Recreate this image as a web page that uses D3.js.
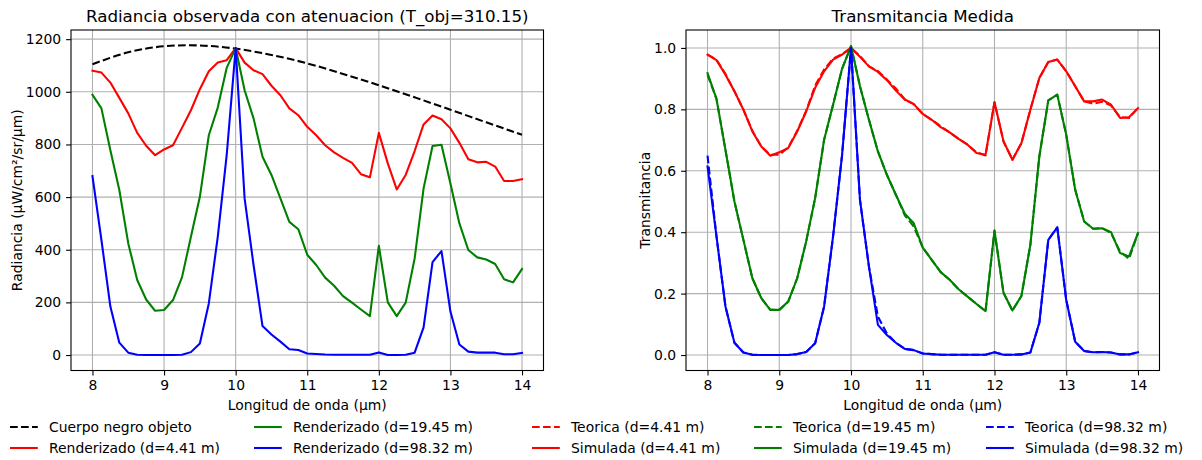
<!DOCTYPE html>
<html><head><meta charset="utf-8">
<script src="https://cdn.jsdelivr.net/npm/d3@7"></script>
<style>
body{margin:0;background:#fff;}
svg{display:block;font-family:"DejaVu Sans",sans-serif;}
</style></head><body>
<svg id="c" width="1202" height="460"></svg>
<script>
// ---------- data ----------
const wavelengths = [8,8.125,8.25,8.375,8.5,8.625,8.75,8.875,9,9.125,9.25,9.375,9.5,9.625,9.75,9.875,10,10.125,10.25,10.375,10.5,10.625,10.75,10.875,11,11.125,11.25,11.375,11.5,11.625,11.75,11.875,12,12.125,12.25,12.375,12.5,12.625,12.75,12.875,13,13.125,13.25,13.375,13.5,13.625,13.75,13.875,14];

const bbWavelengths = [8,8.5,9,9.5,10,10.5,11,11.5,12,12.5,13,13.5,14];
const bbRadiance = [1105,1150,1173,1176,1164,1140,1108,1068,1025,979,932,884,837];

const radRed = [1080,1073,1035,977,918,844,795,759,781,797,863,930,1010,1078,1111,1120,1166,1111,1082,1067,1023,987,937,911,867,835,797,770,749,730,687,675,844,728,629,684,775,876,910,896,861,806,744,732,734,716,661,661,668];
const radGreen = [989,937,778,627,424,285,211,168,171,209,295,449,601,835,940,1091,1166,1006,899,753,684,595,506,478,381,342,294,263,224,199,173,148,415,200,148,199,367,633,794,799,652,500,399,371,363,346,288,276,327];
const radBlue = [680,437,184,47,9,1,0,0,0,0,1,11,44,196,449,760,1166,595,342,110,78,51,22,19,6,4,2,1,1,1,1,1,10,0,0,1,9,105,353,395,165,40,13,9,9,9,3,3,8];

const simRed = [0.978,0.960,0.913,0.859,0.799,0.728,0.679,0.649,0.660,0.674,0.728,0.793,0.870,0.924,0.962,0.978,1.0,0.971,0.940,0.922,0.895,0.861,0.832,0.817,0.785,0.766,0.742,0.725,0.704,0.685,0.658,0.652,0.823,0.696,0.636,0.690,0.799,0.902,0.954,0.962,0.924,0.875,0.826,0.826,0.832,0.815,0.772,0.774,0.804];
const simGreen = [0.918,0.834,0.668,0.5,0.375,0.25,0.185,0.147,0.147,0.174,0.25,0.37,0.511,0.701,0.815,0.932,1.006,0.875,0.766,0.663,0.587,0.522,0.46,0.429,0.35,0.31,0.27,0.245,0.214,0.19,0.166,0.143,0.405,0.203,0.145,0.192,0.359,0.647,0.829,0.848,0.717,0.538,0.435,0.411,0.413,0.4,0.332,0.321,0.397];
const simBlue = [0.614,0.386,0.158,0.04,0.008,0.001,0,0,0,0,0.003,0.01,0.038,0.158,0.386,0.65,1.0,0.505,0.288,0.098,0.065,0.04,0.02,0.016,0.005,0.003,0.001,0.001,0.001,0.001,0.001,0.001,0.009,0.001,0.001,0.002,0.008,0.105,0.375,0.416,0.179,0.043,0.013,0.009,0.01,0.008,0.002,0.002,0.009];

const teoRed = [0.978,0.962,0.915,0.859,0.799,0.730,0.679,0.652,0.652,0.676,0.730,0.795,0.878,0.930,0.965,0.980,1.0,0.974,0.940,0.925,0.897,0.868,0.832,0.817,0.785,0.766,0.745,0.725,0.704,0.685,0.660,0.650,0.823,0.696,0.636,0.690,0.799,0.902,0.954,0.962,0.924,0.875,0.826,0.818,0.825,0.812,0.775,0.772,0.804];
const teoGreen = [0.912,0.834,0.668,0.5,0.375,0.25,0.185,0.147,0.147,0.174,0.25,0.37,0.511,0.701,0.815,0.932,1.006,0.875,0.766,0.663,0.587,0.522,0.455,0.418,0.35,0.31,0.27,0.245,0.214,0.19,0.166,0.143,0.405,0.203,0.145,0.192,0.359,0.647,0.829,0.848,0.717,0.538,0.435,0.411,0.413,0.397,0.337,0.313,0.397];
const teoBlue = [0.649,0.386,0.158,0.04,0.008,0.001,0,0,0,0,0.003,0.01,0.038,0.158,0.386,0.65,1.0,0.505,0.288,0.125,0.07,0.04,0.02,0.016,0.005,0.003,0.001,0.001,0.001,0.001,0.001,0.001,0.009,0.001,0.001,0.002,0.008,0.105,0.375,0.416,0.179,0.043,0.013,0.009,0.01,0.008,0.002,0.002,0.009];

const xTicks = [8,9,10,11,12,13,14];
const yTicksLeft = [0,200,400,600,800,1000,1200];
const yTicksRight = [0,0.2,0.4,0.6,0.8,1.0];

const titles = ["Radiancia observada con atenuacion (T_obj=310.15)","Transmitancia Medida"];
const xLabel = "Longitud de onda (µm)";
const yLabels = ["Radiancia (µW/cm²/sr/µm)","Transmitancia"];
const legendLabels = ["Cuerpo negro objeto","Renderizado (d=4.41 m)","Renderizado (d=19.45 m)","Renderizado (d=98.32 m)","Teorica (d=4.41 m)","Simulada (d=4.41 m)","Teorica (d=19.45 m)","Simulada (d=19.45 m)","Teorica (d=98.32 m)","Simulada (d=98.32 m)"];
const legendColors = ["black","red","green","blue","red","red","green","green","blue","blue"];
const legendDashed = [true,false,false,false,true,false,true,false,true,false];

// ---------- layout ----------
const svg = d3.select("#c");
const FS = 13.9;
const plotTop = 30, plotBottom = 370.5;
const xL = d3.scaleLinear([7.7,14.3],[71,543.5]);
const yL = d3.scaleLinear([-58.8,1234.8],[plotBottom,plotTop]);
const xR = d3.scaleLinear([7.7,14.3],[686,1159.5]);
const yR = d3.scaleLinear([-0.0504,1.0584],[plotBottom,plotTop]);
const DASH = "7.7,3.3";
const LW = 2.08;

function panel(x, y, yTicks, fmt, title, ylab, ylabX){
  const g = svg.append("g");
  g.selectAll(".gx").data(xTicks).join("line")
    .attr("x1",d=>x(d)).attr("x2",d=>x(d)).attr("y1",plotTop).attr("y2",plotBottom)
    .attr("stroke","#b0b0b0").attr("stroke-width",1.1);
  g.selectAll(".gy").data(yTicks).join("line")
    .attr("x1",x.range()[0]).attr("x2",x.range()[1]).attr("y1",d=>y(d)).attr("y2",d=>y(d))
    .attr("stroke","#b0b0b0").attr("stroke-width",1.1);
  const ax = g.append("g").attr("transform",`translate(0,${plotBottom})`)
    .call(d3.axisBottom(x).tickValues(xTicks).tickFormat(d3.format("d")).tickSize(4.9).tickPadding(4.3));
  const ay = g.append("g").attr("transform",`translate(${x.range()[0]},0)`)
    .call(d3.axisLeft(y).tickValues(yTicks).tickFormat(fmt).tickSize(4.9).tickPadding(4.9));
  [ax,ay].forEach(a=>{
    a.select(".domain").remove();
    a.selectAll("line").attr("stroke","#000").attr("stroke-width",1.1);
    a.selectAll("text").attr("font-size",FS).attr("fill","#000").attr("font-family","DejaVu Sans");
  });
  g.append("rect").attr("x",x.range()[0]).attr("y",plotTop)
    .attr("width",x.range()[1]-x.range()[0]).attr("height",plotBottom-plotTop)
    .attr("fill","none").attr("stroke","#000").attr("stroke-width",1.1);
  const cx = (x.range()[0]+x.range()[1])/2;
  svg.append("text").attr("x",cx).attr("y",22).attr("text-anchor","middle")
    .attr("font-size",16.7).text(title);
  svg.append("text").attr("x",cx).attr("y",410).attr("text-anchor","middle")
    .attr("font-size",FS).text(xLabel);
  svg.append("text").attr("transform",`translate(${ylabX},${(plotTop+plotBottom)/2}) rotate(-90)`)
    .attr("text-anchor","middle").attr("font-size",FS).text(ylab);
  return g;
}

const gL = panel(xL,yL,yTicksLeft,d3.format("d"),titles[0],yLabels[0],22);
const gR = panel(xR,yR,yTicksRight,d3.format(".1f"),titles[1],yLabels[1],650);

function drawLine(g, xs, ys, x, y, color, dashed, curve){
  const line = d3.line().x((d,i)=>x(xs[i])).y(d=>y(d));
  if(curve) line.curve(curve);
  g.append("path").datum(ys).attr("d",line).attr("fill","none")
    .attr("stroke",color).attr("stroke-width",LW)
    .attr("stroke-linejoin","round").attr("stroke-linecap", dashed?"butt":"square")
    .attr("stroke-dasharray", dashed?DASH:null);
}

drawLine(gL,bbWavelengths,bbRadiance,xL,yL,"black",true,d3.curveNatural);
drawLine(gL,wavelengths,radRed,xL,yL,"red",false);
drawLine(gL,wavelengths,radGreen,xL,yL,"green",false);
drawLine(gL,wavelengths,radBlue,xL,yL,"blue",false);

drawLine(gR,wavelengths,teoRed,xR,yR,"red",true);
drawLine(gR,wavelengths,simRed,xR,yR,"red",false);
drawLine(gR,wavelengths,teoGreen,xR,yR,"green",true);
drawLine(gR,wavelengths,simGreen,xR,yR,"green",false);
drawLine(gR,wavelengths,teoBlue,xR,yR,"blue",true);
drawLine(gR,wavelengths,simBlue,xR,yR,"blue",false);

const colX = [10,254,532,754,986];
const rowY = [427,448];
const lg = svg.append("g");
legendLabels.forEach((lab,i)=>{
  const c = Math.floor(i/2), r = i%2;
  const x0 = colX[c], y0 = rowY[r];
  lg.append("line").attr("x1",x0).attr("x2",x0+27.8).attr("y1",y0).attr("y2",y0)
    .attr("stroke",legendColors[i]).attr("stroke-width",LW)
    .attr("stroke-dasharray",legendDashed[i]?DASH:null);
  lg.append("text").attr("x",x0+39).attr("y",y0).attr("dy","0.36em")
    .attr("font-size",FS).text(lab);
});
</script>
</body></html>
